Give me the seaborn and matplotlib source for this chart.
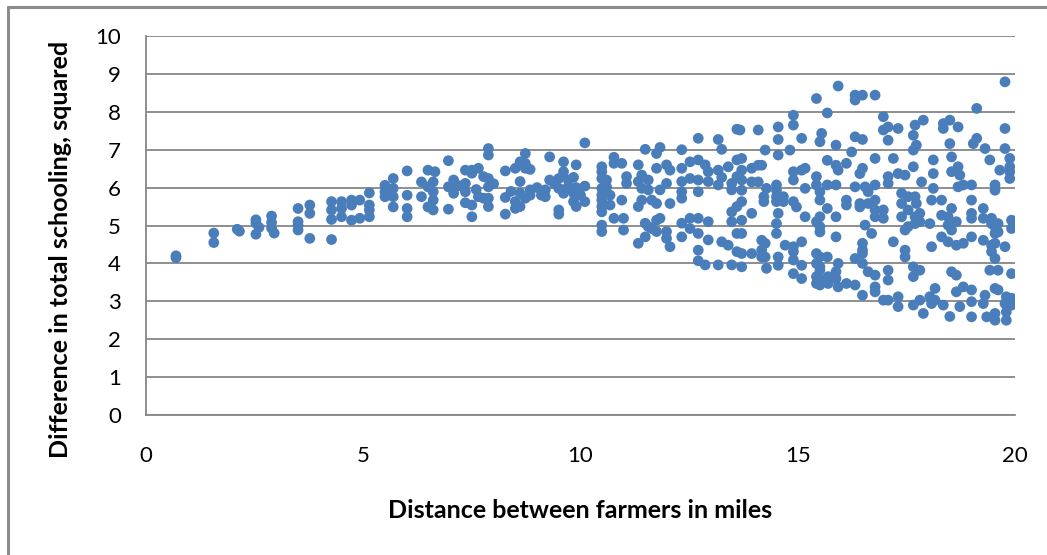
import matplotlib
matplotlib.use("Agg")
import matplotlib.pyplot as plt
import seaborn as sns
import pandas as pd
from matplotlib.lines import Line2D

# ---- data (distance in miles, difference in schooling squared) ----
points_near = [
    (0.69, 4.2), (0.69, 4.15), (1.56, 4.8), (1.56, 4.55), (2.1, 4.9), (2.15, 4.85),
    (2.53, 5.15), (2.53, 5.06), (2.53, 4.77), (2.6, 4.95), (2.89, 5.25), (2.89, 5.08),
    (2.89, 4.93), (2.95, 4.8), (3.5, 5.45), (3.5, 5.1), (3.5, 4.88), (3.5, 5.0),
    (3.77, 5.54), (3.77, 5.32), (3.77, 4.66), (4.27, 5.63), (4.27, 5.41), (4.27, 5.16),
    (4.27, 4.63), (4.5, 5.63), (4.5, 5.45), (4.5, 5.23), (4.73, 5.67), (4.73, 5.54),
    (4.73, 5.14), (4.92, 5.67), (4.92, 5.19), (5.14, 5.86), (5.14, 5.54), (5.14, 5.41),
    (5.14, 5.23), (5.5, 6.06), (5.5, 5.89), (5.5, 5.76), (5.69, 6.24), (5.69, 5.98),
    (5.69, 5.76), (5.69, 5.49), (6.01, 6.44), (6.01, 5.8), (6.01, 5.45), (6.01, 5.23),
    (6.34, 6.15), (6.34, 5.76), (6.49, 6.46), (6.49, 6.02), (6.49, 5.49), (6.61, 6.15),
    (6.61, 5.89), (6.61, 5.67), (6.61, 5.41), (6.65, 6.42),
]

points_mid = [
    (6.96, 6.71), (6.96, 6.02), (6.96, 5.43), (7.08, 6.2), (7.08, 5.98), (7.08, 5.85),
    (7.35, 6.46), (7.35, 6.11), (7.35, 5.89), (7.35, 5.6), (7.5, 6.46), (7.5, 6.38),
    (7.5, 5.54), (7.5, 5.23), (7.65, 6.51), (7.65, 5.76), (7.77, 6.29), (7.77, 5.72),
    (7.88, 7.03), (7.88, 6.86), (7.88, 6.24), (7.88, 6.02), (7.88, 5.72), (7.88, 5.5),
    (8.27, 6.44), (8.27, 5.74), (8.27, 5.3), (8.5, 6.51), (8.5, 5.63), (8.5, 5.45),
    (8.61, 6.68), (8.61, 6.16), (8.61, 5.85), (8.61, 5.5), (8.73, 6.9), (8.73, 6.64),
    (8.73, 6.51), (8.73, 5.72), (8.84, 6.48), (8.84, 5.94), (8.84, 5.8), (9.19, 5.94),
    (9.19, 5.76), (9.29, 6.81), (9.29, 6.2), (9.5, 6.24), (9.5, 5.98), (9.5, 5.41),
    (9.5, 5.3), (9.61, 6.68), (9.61, 6.42), (9.61, 5.94), (9.61, 5.85), (9.72, 6.2),
    (9.72, 6.02), (9.84, 6.27), (9.84, 5.85), (9.84, 5.63), (9.9, 6.6), (9.9, 5.5),
    (10.1, 7.18), (10.1, 6.04), (10.1, 5.63), (7.2, 6.05), (7.6, 5.95), (8.0, 6.1),
    (8.4, 5.9), (9.0, 6.0), (9.1, 5.8), (9.4, 6.1), (9.9, 6.0), (10.0, 5.8),
]

points_center = [
    (10.49, 6.55), (10.49, 6.42), (10.49, 6.24), (10.49, 5.98), (10.49, 5.8), (10.49, 5.67),
    (10.49, 5.5), (10.49, 5.36), (10.49, 5.01), (10.49, 4.84), (10.6, 6.2), (10.6, 6.02),
    (10.68, 5.8), (10.68, 5.54), (10.77, 6.8), (10.77, 6.64), (10.77, 5.19), (10.95, 6.64),
    (10.95, 5.67), (10.99, 5.19), (10.99, 4.88), (11.06, 6.29), (11.06, 6.11), (11.33, 6.6),
    (11.33, 6.16), (11.33, 5.5), (11.33, 4.53), (11.41, 6.33), (11.41, 5.98), (11.41, 5.67),
    (11.49, 7.01), (11.49, 5.06), (11.49, 4.7), (11.56, 6.2), (11.56, 5.94), (11.56, 4.97),
    (11.64, 5.67), (11.64, 4.92), (11.75, 6.9), (11.75, 6.51), (11.75, 5.58), (11.75, 5.14),
    (11.75, 4.84), (11.83, 7.06), (11.83, 5.94), (11.83, 5.19), (11.98, 6.6), (11.98, 6.11),
    (11.98, 4.84), (11.98, 4.66), (12.06, 6.46), (12.06, 5.58), (12.06, 4.44), (12.33, 7.0),
    (12.33, 6.51), (12.33, 6.16), (12.33, 5.89), (12.33, 5.72), (12.33, 5.06), (12.33, 4.7),
    (12.52, 6.68), (12.52, 6.24), (12.52, 5.19), (12.52, 4.92), (12.71, 7.3), (12.71, 6.73),
    (12.71, 6.2), (12.71, 5.89), (12.71, 5.19), (12.71, 4.79), (12.71, 4.35), (12.71, 4.07),
    (12.87, 6.6), (12.87, 3.96), (12.94, 6.42), (12.94, 6.16), (12.94, 5.1), (12.94, 4.62),
    (13.17, 7.27), (13.17, 6.46), (13.17, 6.07), (13.17, 3.96), (13.25, 7.01), (13.25, 6.27),
    (13.25, 4.57), (13.4, 6.55), (13.4, 4.48), (13.48, 6.11), (13.48, 5.94), (13.48, 5.36),
    (13.48, 5.1), (13.48, 3.96), (13.6, 7.54), (13.6, 6.73), (13.6, 6.29), (13.6, 5.5),
    (13.6, 4.79), (13.6, 4.31),
]

points_far = [
    (13.67, 7.52), (13.71, 6.77), (13.71, 6.46), (13.71, 6.2), (13.71, 5.93), (13.71, 5.63),
    (13.71, 5.14), (13.71, 4.79), (13.71, 4.26), (13.71, 3.91), (13.94, 6.51), (13.94, 6.15),
    (13.94, 5.32), (13.94, 4.26), (14.09, 7.52), (14.09, 6.59), (14.09, 6.15), (14.17, 6.59),
    (14.17, 4.61), (14.17, 4.35), (14.17, 4.17), (14.22, 5.76), (14.22, 5.63), (14.25, 6.99),
    (14.25, 4.53), (14.25, 4.17), (14.28, 5.98), (14.28, 3.87), (14.51, 6.07), (14.51, 5.93),
    (14.51, 5.76), (14.51, 5.63), (14.51, 5.05), (14.51, 4.79), (14.55, 7.6), (14.55, 7.27),
    (14.55, 6.86), (14.55, 5.32), (14.55, 4.17), (14.55, 3.95), (14.67, 5.76), (14.67, 5.63),
    (14.71, 4.48), (14.82, 6.99), (14.9, 7.91), (14.9, 7.65), (14.9, 6.42), (14.9, 6.2),
    (14.9, 5.63), (14.9, 4.44), (14.9, 4.31), (14.9, 4.09), (14.9, 3.73), (14.97, 5.49),
    (15.09, 7.3), (15.09, 6.46), (15.09, 4.57), (15.09, 3.95), (15.09, 3.6), (15.17, 6.51),
    (15.17, 5.98), (15.17, 5.23), (15.43, 8.35), (15.43, 6.29), (15.43, 6.07), (15.43, 5.1),
    (15.43, 4.26), (15.43, 4.0), (15.43, 3.65), (15.43, 3.47), (15.51, 7.21), (15.51, 5.89),
    (15.51, 5.67), (15.51, 5.23), (15.51, 4.97), (15.51, 4.83), (15.51, 4.17), (15.51, 3.91),
    (15.51, 3.82), (15.51, 3.6), (15.51, 3.43), (15.55, 7.43), (15.68, 7.97), (15.68, 6.72),
    (15.68, 6.07), (15.68, 5.45), (15.68, 4.17), (15.7, 3.65), (15.7, 3.47), (15.88, 7.12),
    (15.88, 6.59), (15.88, 6.07), (15.88, 5.23), (15.88, 4.7), (15.88, 3.78), (15.88, 3.6),
    (15.93, 8.68), (15.93, 6.46), (15.93, 4.0), (15.93, 3.38), (16.12, 6.64), (16.12, 3.47),
    (16.12, 5.67), (16.12, 5.54), (16.24, 6.94), (16.32, 8.44), (16.32, 8.31), (16.32, 7.34),
    (16.32, 3.43), (16.32, 6.02), (16.32, 4.13), (16.43, 6.37), (16.43, 5.58), (16.43, 5.49),
    (16.49, 8.44), (16.49, 7.27), (16.49, 6.51), (16.49, 4.53), (16.49, 4.35), (16.49, 4.26),
    (16.49, 4.0), (16.49, 3.16), (16.55, 6.02), (16.55, 5.01), (16.62, 5.89), (16.62, 5.58),
    (16.62, 3.78), (16.7, 4.79), (16.78, 8.44), (16.78, 6.77), (16.78, 6.07), (16.78, 5.67),
    (16.78, 5.41), (16.78, 5.23), (16.78, 3.69), (16.78, 3.38), (16.78, 3.25),
]

points_edge = [
    (16.97, 7.87), (16.97, 7.52), (17.08, 7.6), (17.08, 7.25), (17.08, 6.29), (17.08, 6.11),
    (17.08, 3.82), (17.08, 3.56), (17.08, 3.03), (16.97, 5.41), (16.97, 5.19), (16.97, 3.03),
    (17.2, 6.77), (17.2, 4.57), (17.31, 7.56), (17.31, 6.37), (17.31, 3.12), (17.31, 2.86),
    (17.39, 5.85), (17.39, 5.58), (17.39, 5.23), (17.47, 6.33), (17.47, 4.88), (17.47, 4.35),
    (17.47, 4.17), (17.54, 5.76), (17.54, 5.41), (17.54, 4.97), (17.66, 7.38), (17.66, 6.99),
    (17.66, 6.55), (17.66, 3.91), (17.66, 3.65), (17.66, 2.9), (17.7, 7.65), (17.7, 5.76),
    (17.7, 5.23), (17.7, 5.05), (17.73, 7.12), (17.73, 5.58), (17.81, 5.32), (17.81, 5.1),
    (17.81, 3.82), (17.81, 3.03), (17.85, 6.15), (17.89, 7.78), (17.89, 2.68), (18.04, 5.05),
    (18.04, 3.12), (18.08, 5.67), (18.08, 4.44), (18.08, 2.94), (18.12, 6.73), (18.12, 6.37),
    (18.12, 5.98), (18.16, 3.34), (18.16, 3.03), (18.31, 5.67), (18.31, 5.27), (18.31, 4.7),
    (18.35, 7.69), (18.35, 7.56), (18.35, 2.9), (18.46, 5.23), (18.46, 5.01), (18.46, 4.57),
    (18.5, 7.78), (18.5, 7.16), (18.5, 2.6), (18.54, 6.81), (18.54, 6.42), (18.54, 5.45),
    (18.54, 4.88), (18.54, 3.78), (18.65, 5.1), (18.65, 4.48), (18.65, 3.69), (18.65, 3.25),
    (18.69, 7.6), (18.69, 6.55), (18.69, 6.02), (18.73, 6.33), (18.73, 2.86), (18.81, 6.07),
    (18.81, 4.53), (18.81, 3.38), (19.0, 6.07), (19.0, 5.67), (19.0, 5.32), (19.0, 5.19),
    (19.0, 4.7), (19.0, 3.3), (19.0, 2.99), (19.0, 2.59), (19.04, 7.16), (19.12, 8.09),
    (19.12, 7.3), (19.27, 5.45), (19.27, 5.19), (19.27, 4.61), (19.27, 2.94), (19.31, 7.03),
    (19.31, 3.16), (19.35, 2.59), (19.42, 6.73), (19.42, 3.82), (19.46, 5.19), (19.46, 5.05),
    (19.46, 4.48), (19.46, 4.31), (19.54, 6.07), (19.54, 5.93), (19.54, 4.97), (19.54, 4.79),
    (19.54, 4.53), (19.54, 4.13), (19.54, 3.34), (19.54, 2.68), (19.54, 2.5), (19.61, 5.05),
    (19.61, 4.83), (19.61, 3.82), (19.61, 3.3), (19.65, 6.46), (19.77, 8.79), (19.77, 7.56),
    (19.77, 7.03), (19.77, 4.44), (19.77, 2.94), (19.8, 3.12), (19.8, 2.72), (19.8, 2.5),
    (19.88, 6.77), (19.88, 6.55), (19.88, 6.42), (19.88, 6.24), (19.92, 5.14), (19.92, 4.92),
    (19.92, 3.73), (19.92, 3.08), (19.92, 2.9),
]

x_ticks = [0, 5, 10, 15, 20]
y_ticks = [0, 1, 2, 3, 4, 5, 6, 7, 8, 9, 10]
x_label = "Distance between farmers in miles"
y_label = "Difference in total schooling, squared"

all_points = points_near + points_mid + points_center + points_far + points_edge
df = pd.DataFrame(all_points, columns=["distance", "schooling"])

sns.set_style("white")
plt.rcParams["font.family"] = ["Lato", "DejaVu Sans"]

W, H = 1047, 555
fig = plt.figure(figsize=(W / 100, H / 100), dpi=100)
ax = fig.add_axes([146 / W, 1 - 415 / H, (1015 - 146) / W, (415 - 36) / H])

grid_c = "#868686"
ax.set_axisbelow(True)
for yv in y_ticks:
    ax.axhline(yv, color=grid_c, lw=1.3, zorder=0)

sns.scatterplot(data=df, x="distance", y="schooling", ax=ax, color="#4A7EBB",
                s=60, edgecolor="none", linewidth=0, zorder=3)

ax.set_xlim(0, 20)
ax.set_ylim(0, 10)
ax.set_xticks(x_ticks)
ax.set_yticks(y_ticks)
ax.set_xticklabels([str(t) for t in x_ticks], fontsize=16, color="black")
ax.set_yticklabels([str(t) for t in y_ticks], fontsize=16, color="black")
ax.tick_params(axis="y", direction="out", length=6, width=1.3, color=grid_c, pad=12)
ax.tick_params(axis="x", direction="out", length=5, width=1.3, color=grid_c, pad=17)

for side in ["top", "right"]:
    ax.spines[side].set_visible(False)
for side in ["left", "bottom"]:
    ax.spines[side].set_color(grid_c)
    ax.spines[side].set_linewidth(1.3)

ax.set_xlabel("")
ax.set_ylabel("")
fig.text(580 / W, 1 - 510 / H, x_label, fontsize=18, fontweight="bold",
         ha="center", va="center", color="black")
fig.text(60 / W, 1 - 249 / H, y_label, fontsize=18, fontweight="bold",
         ha="center", va="center", rotation=90, color="black")

# chart outer border (left and top edges visible)
fig.add_artist(Line2D([8 / W, 8 / W], [0, 1 - 7 / H], transform=fig.transFigure,
                      color="#8c8c8c", lw=2.2))
fig.add_artist(Line2D([8 / W, 1], [1 - 7 / H, 1 - 7 / H], transform=fig.transFigure,
                      color="#8c8c8c", lw=2.2))

fig.savefig("out.png", dpi=100)
